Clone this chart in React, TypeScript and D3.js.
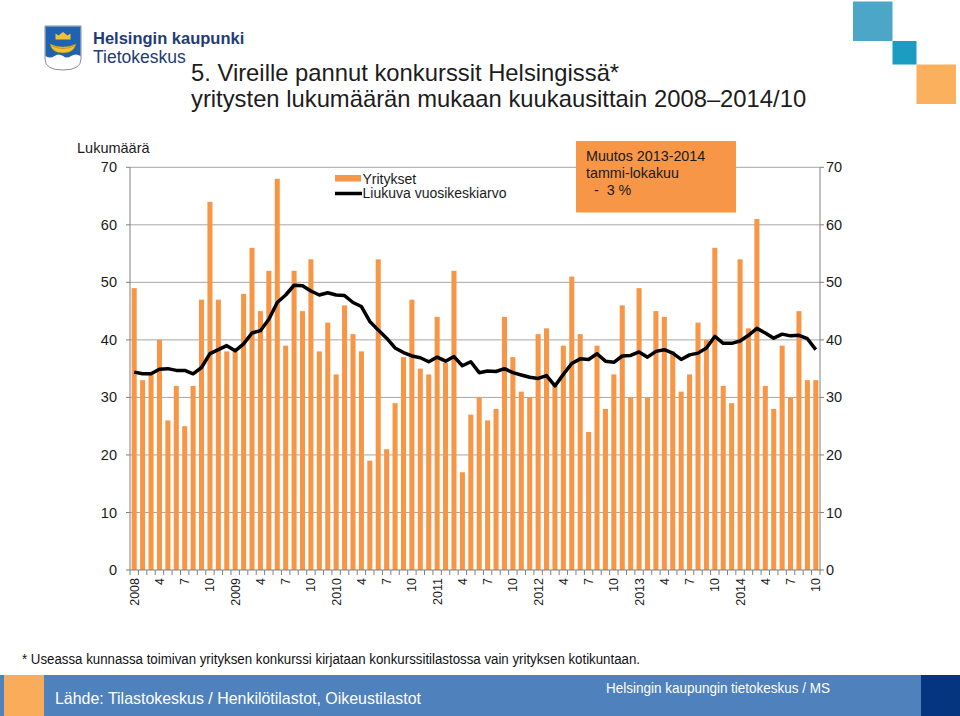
import React from "react";
import * as d3 from "d3";

const years = ["2008", "2009", "2010", "2011", "2012", "2013", "2014"];
const monthTicks = ["4", "7", "10"];

// Yritykset (monthly bankruptcies), 2008/01 .. 2014/10
const companies = [
  49, 33, 34, 40, 26, 32, 25, 32, 47, 64, 47, 38,
  38, 48, 56, 45, 52, 68, 39, 52, 45, 54, 38, 43,
  34, 46, 41, 38, 19, 54, 21, 29, 37, 47, 35, 34,
  44, 36, 52, 17, 27, 30, 26, 28, 44, 37, 31, 30,
  41, 42, 32, 39, 51, 41, 24, 39, 28, 34, 46, 30,
  49, 30, 45, 44, 38, 31, 34, 43, 40, 56, 32, 29,
  54, 42, 61, 32, 28, 39, 30, 45, 33, 33,
];

// Liukuva vuosikeskiarvo (rolling 12-month mean)
const rolling = [
  34.4, 34.1, 34.1, 34.9, 35.0, 34.7, 34.7, 34.1, 35.2, 37.6, 38.3, 39.0,
  38.1, 39.3, 41.2, 41.6, 43.6, 46.5, 47.8, 49.5, 49.4, 48.5, 47.8, 48.2,
  47.8, 47.7, 46.5, 45.8, 43.2, 41.7, 40.3, 38.6, 37.8, 37.2, 36.9, 36.2,
  37.0, 36.3, 37.1, 35.5, 36.2, 34.3, 34.6, 34.5, 35.0, 34.3, 33.9, 33.5,
  33.3, 33.8, 32.0, 34.0, 35.9, 36.7, 36.6, 37.6, 36.3, 36.1, 37.2, 37.3,
  37.9, 37.0, 38.0, 38.3, 37.7, 36.6, 37.4, 37.7, 38.6, 40.6, 39.4, 39.4,
  39.8, 40.8, 42.0, 41.2, 40.3, 41.0, 40.7, 40.8, 40.2, 38.3,
];

const yTicks = [0, 10, 20, 30, 40, 50, 60, 70];

const FONT = "'Liberation Sans', Arial, Helvetica, sans-serif";

export default function App() {
  const left = 130, right = 820, top = 167.3, bottom = 570;
  const idx = companies.map((_, i) => i);
  const labels = idx.map((i) => {
    const m = i % 12;
    if (m === 0) return years[i / 12];
    if (m === 3) return monthTicks[0];
    if (m === 6) return monthTicks[1];
    if (m === 9) return monthTicks[2];
    return "";
  });

  const x = d3.scaleBand<number>().domain(idx).range([left, right]).paddingInner(0.4).paddingOuter(0.2);
  const y = d3.scaleLinear().domain([0, 70]).range([bottom, top]);
  const step = (right - left) / idx.length;
  const line = d3
    .line<number>()
    .x((_, i) => (x(i) as number) + x.bandwidth() / 2)
    .y((d) => y(d))
    .curve(d3.curveLinear);

  return (
    <svg
      width={960}
      height={716}
      style={{ position: "fixed", left: 0, top: 0, background: "#fff" }}
      fontFamily={FONT}
    >
      {/* top-right squares */}
      <rect x={853} y={1.5} width={39.5} height={39.5} fill="#4ba6c7" />
      <rect x={892.5} y={41} width={24} height={23.5} fill="#1b9cc1" />
      <rect x={916.5} y={64.5} width={39.5} height={39.5} fill="#fbb05e" />

      {/* logo */}
      <g>
        <path d="M45,26 H81 V59 Q81,70 63,70 Q45,70 45,59 Z" fill="#fff" stroke="#8a8a8a" strokeWidth={1} />
        <path d="M45.5,26.5 H80.5 V56 Q76,53 71,56 Q67,59 63,56 Q58.5,53 54.5,56 Q50,59 45.5,56 Z" fill="#1f62b0" />
        <path d="M50,44 Q63,50 76,44 Q74,53 63,53 Q52,53 50,44 Z" fill="#f2c230" stroke="#9b7a10" strokeWidth={0.5} />
        <path d="M52,46 Q63,51 74,46" fill="none" stroke="#9b7a10" strokeWidth={0.6} />
        <path d="M55.5,38 L55.5,33.5 L58.5,35.5 L63,32 L67.5,35.5 L70.5,33.5 L70.5,38 Z" fill="#f2c230" />
        <rect x={55.5} y={38} width={15} height={1.5} fill="#f2c230" />
      </g>
      <text x={93} y={44} fontSize={16.5} fontWeight="bold" fill="#1f3c78">Helsingin kaupunki</text>
      <text x={93} y={62.5} fontSize={17.5} fill="#1f3c78">Tietokeskus</text>

      {/* title */}
      <text x={191} y={81} fontSize={23.8} fill="#1c1c1c">5. Vireille pannut konkurssit Helsingissä*</text>
      <text x={191} y={107} fontSize={23.8} fill="#1c1c1c">yritysten lukumäärän mukaan kuukausittain 2008–2014/10</text>

      {/* gridlines */}
      {yTicks.filter((t) => t > 0).map((t) => (
        <line key={"g" + t} x1={left} x2={right} y1={y(t)} y2={y(t)} stroke="#a6a6a6" strokeWidth={1} />
      ))}

      {/* bars */}
      {companies.map((v, i) => (
        <rect key={"b" + i} x={x(i)} y={y(v)} width={x.bandwidth()} height={y(0) - y(v)} fill="#f79646" />
      ))}

      {/* rolling line */}
      <path d={line(rolling) || ""} fill="none" stroke="#000" strokeWidth={3.5} strokeLinejoin="round" />

      {/* axes */}
      <line x1={left} x2={left} y1={top} y2={bottom} stroke="#808080" />
      <line x1={right} x2={right} y1={top} y2={bottom} stroke="#808080" />
      <line x1={left} x2={right} y1={bottom} y2={bottom} stroke="#808080" />
      {yTicks.map((t) => (
        <g key={"yt" + t}>
          <line x1={left - 4} x2={left} y1={y(t)} y2={y(t)} stroke="#808080" />
          <line x1={right} x2={right + 4} y1={y(t)} y2={y(t)} stroke="#808080" />
          <text x={117} y={y(t)} dy="0.35em" textAnchor="end" fontSize={14.5} fill="#1a1a1a">{t}</text>
          <text x={826} y={y(t)} dy="0.35em" textAnchor="start" fontSize={14.5} fill="#1a1a1a">{t}</text>
        </g>
      ))}
      {d3.range(idx.length + 1).map((k) => (
        <line key={"xt" + k} x1={left + k * step} x2={left + k * step} y1={bottom} y2={bottom + 5} stroke="#808080" />
      ))}
      {labels.map((l, i) =>
        l ? (
          <text
            key={"xl" + i}
            transform={`translate(${(x(i) as number) + x.bandwidth() / 2 + 4.5},${bottom + 8}) rotate(-90)`}
            textAnchor="end"
            fontSize={12.5}
            fill="#1a1a1a"
          >
            {l}
          </text>
        ) : null
      )}

      <text x={77} y={152.5} fontSize={14.5} fill="#1a1a1a">Lukumäärä</text>

      {/* legend */}
      <rect x={335} y={175} width={26} height={6.5} fill="#f79646" />
      <text x={362.5} y={183.5} fontSize={14} fill="#1a1a1a">Yritykset</text>
      <line x1={335} x2={362} y1={193.5} y2={193.5} stroke="#000" strokeWidth={3.5} />
      <text x={362.5} y={198} fontSize={14} fill="#1a1a1a">Liukuva vuosikeskiarvo</text>

      {/* change box */}
      <rect x={576} y={141} width={160} height={71.5} fill="#f79646" />
      <text x={586} y={161} fontSize={14.3} fill="#1a1a1a">Muutos 2013-2014</text>
      <text x={586} y={177.5} fontSize={14.3} fill="#1a1a1a">tammi-lokakuu</text>
      <text x={586} y={195} fontSize={14.3} fill="#1a1a1a" xmlSpace="preserve">{"  -  3 %"}</text>

      {/* footnote */}
      <text x={22} y={664} fontSize={14} fill="#111" textLength={618} lengthAdjust="spacingAndGlyphs">
        * Useassa kunnassa toimivan yrityksen konkurssi kirjataan konkurssitilastossa vain yrityksen kotikuntaan.
      </text>

      {/* footer */}
      <rect x={0} y={675} width={960} height={41} fill="#4f81bd" />
      <rect x={4} y={675} width={40} height={41} fill="#f9ad5a" />
      <rect x={921} y={675} width={39} height={41} fill="#05357f" />
      <text x={55} y={703.5} fontSize={17} fill="#fff" textLength={366} lengthAdjust="spacingAndGlyphs">
        Lähde: Tilastokeskus / Henkilötilastot, Oikeustilastot
      </text>
      <text x={606} y={693} fontSize={14.5} fill="#fff" textLength={224} lengthAdjust="spacingAndGlyphs">
        Helsingin kaupungin tietokeskus / MS
      </text>
    </svg>
  );
}
